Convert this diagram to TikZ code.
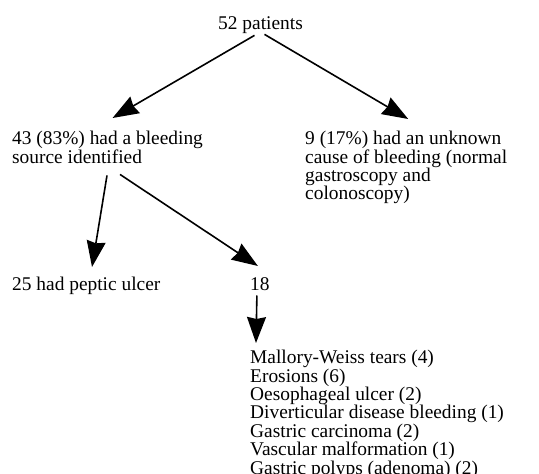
\documentclass[tikz,border=0pt]{standalone}
\usepackage{fontspec}
\setmainfont{Liberation Serif}
\usetikzlibrary{positioning,arrows.meta}

\begin{document}
\begin{tikzpicture}[
    x=1pt, y=-1pt,
    txt/.style={anchor=north west, inner sep=0pt, align=left,
        font=\fontsize{19.4}{18.4}\selectfont},
    arr/.style={-{Stealth[length=26pt, width=19pt, inset=2pt]}, line width=1.6pt},
]
\useasboundingbox (0,0) rectangle (539,474);

\node[txt] (all) at (218,16) {52 patients};
\node[txt] (src) at (12,131) {43 (83\%) had a bleeding\\source identified};
\node[txt] (unk) at (305,131) {9 (17\%) had an unknown\\cause of bleeding (normal\\gastroscopy and\\colonoscopy)};
\node[txt] (pep) at (12,277) {25 had peptic ulcer};
\node[txt] (n18) at (250,277) {18};
\node[txt] (lst) at (250,350) {Mallory-Weiss tears (4)\\Erosions (6)\\Oesophageal ulcer (2)\\Diverticular disease bleeding (1)\\Gastric carcinoma (2)\\Vascular malformation (1)\\Gastric polyps (adenoma) (2)};

\draw[arr] ([xshift=-6pt, yshift=-2pt]all.south) -- ([xshift=5pt, yshift=13pt]src.north);
\draw[arr] ([xshift=4pt, yshift=-1pt]all.south) -- ([xshift=2pt, yshift=12pt]unk.north);
\draw[arr] ([xshift=95pt, yshift=-12pt]src.south west) -- ([xshift=80pt, yshift=10pt]pep.north west);
\draw[arr] ([xshift=108pt, yshift=-11pt]src.south west) -- ([xshift=-2pt, yshift=11pt]n18.north);
\draw[arr] ([xshift=-3pt, yshift=-5pt]n18.south) -- ([xshift=6pt, yshift=7pt]lst.north west);
\end{tikzpicture}
\end{document}
